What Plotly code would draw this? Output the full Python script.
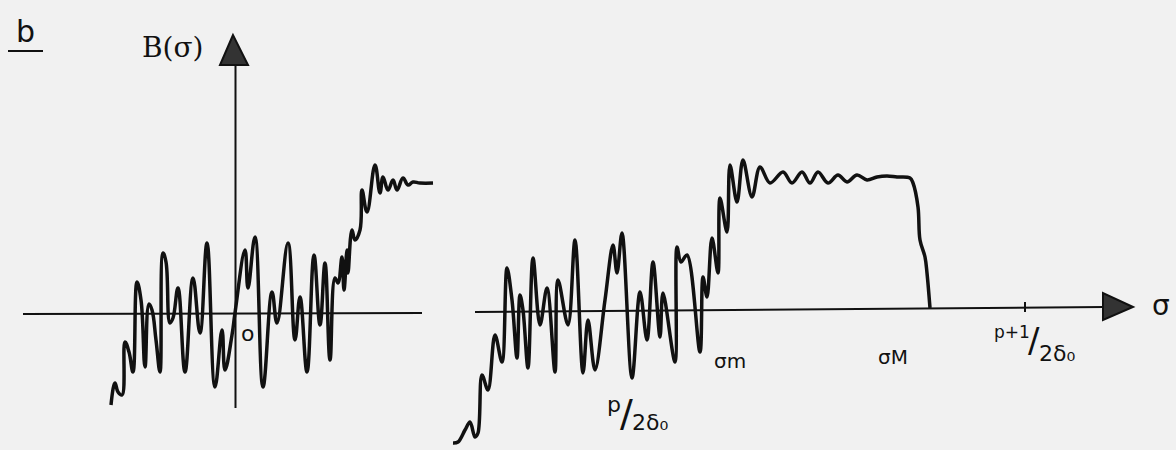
import plotly.graph_objects as go

# Left spectrum B(sigma): sigma (horizontal, px units) and B (vertical, px units, image-down)
left_sigma = [111, 115, 118, 122, 125, 129, 133, 137, 141, 145, 149, 152, 156, 160, 163, 166, 170, 173,
              178, 185, 193, 200, 207, 215, 222, 225, 232, 235, 245, 248, 255, 263, 272, 277, 288, 295,
              300, 307, 314, 320, 325, 330, 335, 338, 342, 344, 347, 348, 352, 355, 360, 362, 367, 375,
              380, 383, 388, 393, 397, 403, 408, 413, 420, 433]
left_B = [405, 383, 392, 395, 342, 352, 372, 282, 300, 367, 304, 310, 340, 372, 253, 262, 323, 318,
          288, 372, 278, 333, 243, 387, 330, 370, 335, 313, 250, 288, 237, 387, 292, 323, 243, 340,
          297, 372, 255, 325, 263, 360, 278, 283, 257, 290, 250, 273, 230, 240, 230, 190, 212, 165,
          193, 177, 190, 180, 190, 178, 185, 182, 183, 183]

# Right spectrum
right_sigma = [453, 458, 465, 470, 475, 478, 482, 488, 495, 502, 507, 512, 517, 520, 523, 528, 533, 540,
               547, 555, 558, 568, 575, 583, 588, 595, 605, 613, 617, 622, 632, 640, 647, 653, 660, 663,
               675, 677, 681, 687, 700, 703, 707, 712, 718, 720, 727, 730, 737, 743, 752, 760, 770, 783,
               792, 802, 810, 818, 828, 838, 847, 857, 867, 877, 887, 897, 910, 913, 918, 920, 925, 927, 930]
right_B = [443, 442, 430, 422, 437, 433, 375, 390, 335, 362, 268, 300, 358, 295, 310, 368, 258, 325,
           288, 372, 280, 325, 240, 373, 320, 370, 300, 245, 273, 233, 378, 292, 340, 262, 337, 293,
           362, 247, 262, 255, 352, 277, 297, 238, 273, 198, 232, 165, 202, 160, 197, 167, 183, 172,
           183, 172, 183, 172, 183, 175, 182, 175, 180, 177, 176, 177, 178, 183, 207, 240, 257, 273, 308]

# Axis labels / ticks
tick_sigma = [1025]
fig = go.Figure()

ink = "#111111"
fig.add_trace(go.Scatter(x=left_sigma, y=left_B, mode="lines",
                         line=dict(color=ink, width=3.5, shape="spline", smoothing=1.2),
                         hoverinfo="skip", showlegend=False))
fig.add_trace(go.Scatter(x=right_sigma, y=right_B, mode="lines",
                         line=dict(color=ink, width=3.5, shape="spline", smoothing=1.0),
                         hoverinfo="skip", showlegend=False))

shapes = [
    # left axes
    dict(type="line", x0=23, y0=314, x1=422, y1=313, line=dict(color=ink, width=2)),
    dict(type="line", x0=235.5, y0=408, x1=235.5, y1=62, line=dict(color=ink, width=2)),
    dict(type="path", path="M 233 35 L 220 65 L 248 65 Z", fillcolor="#333333",
         line=dict(color=ink, width=2)),
    # right axis
    dict(type="line", x0=475, y0=312, x1=1105, y1=307, line=dict(color=ink, width=2)),
    dict(type="path", path="M 1133 307 L 1103 293 L 1103 320 Z", fillcolor="#333333",
         line=dict(color=ink, width=2)),
    dict(type="line", x0=tick_sigma[0], y0=302, x1=tick_sigma[0], y1=312, line=dict(color=ink, width=2)),
    # underline of b
    dict(type="line", x0=8, y0=51, x1=43, y1=51, line=dict(color=ink, width=2)),
]

font_hand = "DejaVu Sans"
ann = [
    dict(x=25, y=31, text="b", font=dict(size=30)),
    dict(x=173, y=47, text="B(σ)", font=dict(size=28, family="DejaVu Serif")),
    dict(x=247, y=333, text="o", font=dict(size=22)),
    dict(x=1161, y=305, text="σ", font=dict(size=28)),
    dict(x=730, y=361, text="σm", font=dict(size=20)),
    dict(x=893, y=357, text="σM", font=dict(size=20)),
    dict(x=1012, y=332, text="p+1", font=dict(size=17)),
    dict(x=1034, y=340, text="/", font=dict(size=34)),
    dict(x=1057, y=353, text="2δ₀", font=dict(size=22)),
    dict(x=614, y=404, text="p", font=dict(size=22)),
    dict(x=626, y=413, text="/", font=dict(size=38)),
    dict(x=650, y=422, text="2δ₀", font=dict(size=22)),
]
annotations = []
for a in ann:
    f = dict(family=font_hand, color=ink)
    f.update(a["font"])
    annotations.append(dict(x=a["x"], y=a["y"], text=a["text"], showarrow=False,
                            xref="x", yref="y", font=f, xanchor="center", yanchor="middle"))

fig.update_layout(
    width=1176, height=450,
    margin=dict(l=0, r=0, t=0, b=0),
    paper_bgcolor="#f1f1f1", plot_bgcolor="#f1f1f1",
    xaxis=dict(range=[0, 1176], visible=False, fixedrange=True),
    yaxis=dict(range=[450, 0], visible=False, fixedrange=True),
    shapes=shapes, annotations=annotations, showlegend=False,
)

fig.write_html("out.html", config={"displayModeBar": False},
               post_script=["document.body.style.margin='0';document.body.style.background='#f1f1f1';"])
